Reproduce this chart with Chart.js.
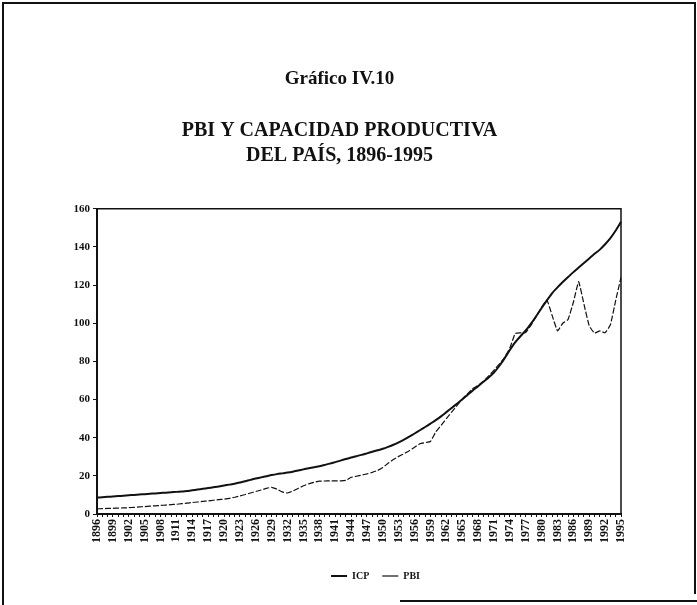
<!DOCTYPE html>
<html>
<head>
<meta charset="utf-8">
<script src="https://cdn.jsdelivr.net/npm/chart.js@4.4.0/dist/chart.umd.min.js"></script>
<style>
html, body { margin: 0; padding: 0; background: #fff; }
#wrap { position: relative; width: 697px; height: 605px; overflow: hidden; }
#frame { position: absolute; left: 2px; top: 2px; width: 690px; height: 590px;
         border-left: 2px solid #111; border-top: 2px solid #111; border-right: 2px solid #111; }
#foot { position: absolute; left: 400px; top: 600px; width: 297px; border-top: 2px solid #111; }
#left { position: absolute; left: 2px; top: 590px; height: 20px; border-left: 2px solid #111; }
canvas { position: absolute; left: 0; top: 0; }
</style>
</head>
<body>
<div id="wrap">
  <canvas id="myChart" width="697" height="605"></canvas>
  <div id="frame"></div>
  <div id="left"></div>
  <div id="foot"></div>
</div>
<script>
// DATA
const FIRST_YEAR = 1896;
const LAST_YEAR = 1995;
const years = [];
for (let y = FIRST_YEAR; y <= LAST_YEAR; y++) years.push(String(y));

// every third year carries a label
const tickYears = years.filter((y, i) => i % 3 === 0);

// ICP = capacidad productiva (solid)
const icp = [
    8.6, 8.8, 9.0, 9.2, 9.4, 9.6, 9.8, 10.0, 10.2, 10.4,
    10.6, 10.8, 11.0, 11.2, 11.4, 11.6, 11.8, 12.0, 12.4, 12.8,
    13.2, 13.6, 14.0, 14.4, 14.9, 15.4, 15.9, 16.5, 17.2, 17.9,
    18.6, 19.2, 19.8, 20.4, 20.9, 21.3, 21.7, 22.2, 22.8, 23.4,
    24.0, 24.5, 25.0, 25.7, 26.4, 27.2, 28.0, 28.8, 29.6, 30.3,
    31.0, 31.8, 32.6, 33.4, 34.2, 35.2, 36.3, 37.6, 39.0, 40.6,
    42.2, 43.9, 45.6, 47.4, 49.2, 51.2, 53.4, 55.6, 57.8, 60.0,
    62.4, 64.8, 67.0, 69.3, 71.6, 74.2, 77.6, 81.6, 86.0, 90.0,
    93.2, 96.2, 99.8, 103.8, 108.0, 112.0, 115.8, 118.8, 121.6, 124.2,
    126.8, 129.2, 131.6, 134.0, 136.4, 138.6, 141.4, 144.6, 148.6, 153.2
];

// PBI (dashed)
const pbi = [
    2.7, 2.8, 2.9, 3.0, 3.1, 3.2, 3.3, 3.5, 3.7, 3.9,
    4.1, 4.3, 4.5, 4.7, 4.9, 5.1, 5.4, 5.7, 6.0, 6.3,
    6.6, 6.9, 7.2, 7.5, 7.8, 8.2, 8.8, 9.5, 10.2, 11.0,
    11.8, 12.6, 13.4, 14.0, 13.0, 11.6, 11.0, 12.0, 13.4, 14.8,
    15.8, 16.6, 17.2, 17.3, 17.4, 17.4, 17.4, 17.6, 19.2, 19.8,
    20.4, 21.0, 21.8, 22.8, 24.4, 26.6, 28.6, 30.2, 31.6, 33.2,
    35.0, 36.8, 37.4, 38.0, 43.0, 46.4, 50.0, 53.4, 56.8, 60.2,
    63.0, 65.8, 67.4, 69.6, 72.4, 75.4, 78.6, 82.0, 87.0, 94.6,
    95.0, 95.2, 99.0, 103.6, 108.4, 112.2, 104.0, 96.0, 100.0, 102.0,
    111.0, 121.8, 110.0, 98.6, 94.8, 96.0, 95.0, 99.2, 112.0, 124.0
];

const Y_MIN = 0;
const Y_MAX = 160;
const Y_STEP = 20;

/**********************************************************************************
 * CHART
 *********************************************************************************/

const SERIF = "'Liberation Serif', 'DejaVu Serif', serif";

// box round the plot area (top and right side), legend nudged right
const plotFrame = {
    id: 'plotFrame',
    afterLayout(chart) {
        chart.legend.left += 36;
        chart.legend.right += 36;
    },
    afterDraw(chart) {
        const a = chart.chartArea;
        const c = chart.ctx;
        c.save();
        c.strokeStyle = '#111';
        c.lineWidth = 1.5;
        c.beginPath();
        c.moveTo(a.left, a.top);
        c.lineTo(a.right, a.top);
        c.lineTo(a.right, a.bottom);
        c.stroke();
        c.restore();
    }
};

const ctx = document.getElementById('myChart');

var chart = new Chart(ctx, {
    type: 'line',
    data: {
        labels: years,
        datasets: [
            {
                label: 'ICP',
                data: icp,
                borderColor: '#111',
                borderWidth: 2,
                pointRadius: 0,
                tension: 0.2
            },
            {
                label: 'PBI',
                data: pbi,
                borderColor: '#111',
                borderWidth: 1.2,
                borderDash: [6, 2],
                pointRadius: 0,
                tension: 0.1
            }
        ]
    },
    options: {
        responsive: false,
        animation: false,
        layout: { padding: { top: 68, left: 58, right: 76, bottom: 14 } },
        plugins: {
            title: {
                display: true,
                text: 'Gráfico IV.10',
                color: '#111',
                font: { family: SERIF, size: 19, weight: 'bold' },
                padding: { top: 0, bottom: 28 }
            },
            subtitle: {
                display: true,
                text: ['PBI Y CAPACIDAD PRODUCTIVA', 'DEL PAÍS, 1896-1995'],
                color: '#111',
                font: { family: SERIF, size: 20, weight: 'bold', lineHeight: 1.25 },
                padding: { top: 0, bottom: 40 }
            },
            legend: {
                position: 'bottom',
                labels: {
                    color: '#111',
                    font: { family: SERIF, size: 10, weight: 'bold' },
                    usePointStyle: true,
                    pointStyle: 'line',
                    pointStyleWidth: 16,
                    padding: 13
                }
            },
            tooltip: { enabled: false }
        },
        scales: {
            x: {
                grid: { drawOnChartArea: false, tickLength: 3, color: '#111' },
                border: { color: '#111', width: 2 },
                ticks: {
                    autoSkip: false,
                    maxRotation: 90,
                    minRotation: 90,
                    padding: 2,
                    color: '#111',
                    font: { family: SERIF, size: 12, weight: 'bold' },
                    callback: function (value, index) {
                        const y = this.getLabelForValue(value);
                        return tickYears.includes(y) ? y : '';
                    }
                },
                afterFit: (scale) => { scale.height = 44; }
            },
            y: {
                min: Y_MIN,
                max: Y_MAX,
                grid: { drawOnChartArea: false, tickLength: 4, color: '#111' },
                border: { color: '#111', width: 2 },
                ticks: {
                    stepSize: Y_STEP,
                    padding: 3,
                    color: '#111',
                    font: { family: SERIF, size: 11, weight: 'bold' }
                },
                afterFit: (scale) => { scale.width = 39; }
            }
        }
    },
    plugins: [plotFrame]
});
</script>
</body>
</html>
